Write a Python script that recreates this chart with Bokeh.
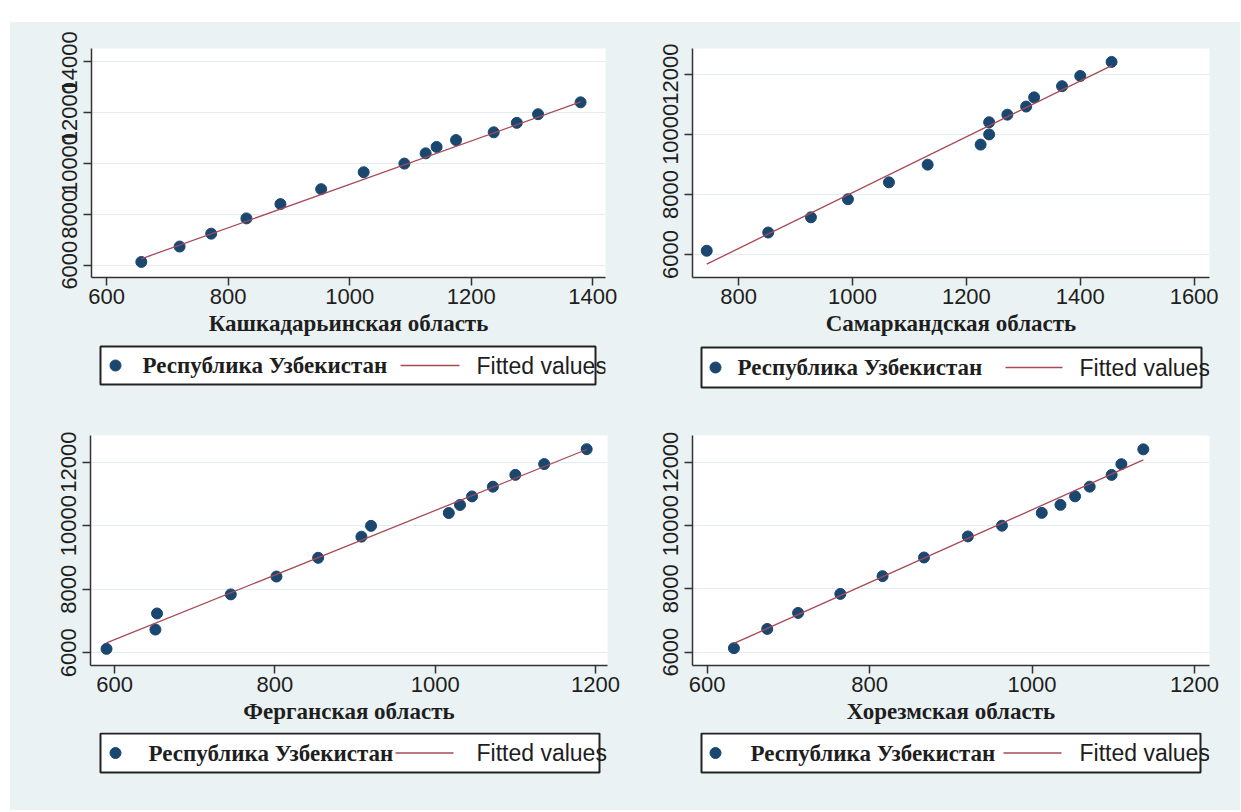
from bokeh.plotting import figure
from bokeh.models import Range1d, FixedTicker, Spacer
from bokeh.layouts import column, row
from bokeh.core.properties import value
from bokeh.embed import file_html
from bokeh.resources import INLINE

# ---------------- data ----------------
series_names = ["Республика Узбекистан", "Fitted values"]

# Республика Узбекистан (common y variable)
uzbekistan = [6125, 6732, 7238, 7839, 8401, 8990, 9656, 9995,
              10400, 10653, 10922, 11228, 11600, 11940, 12408]

kashkadarya = [657, 720, 772, 830, 886, 953, 1023, 1090,
               1125, 1143, 1175, 1237, 1275, 1310, 1380]
samarkand = [744, 852, 927, 992, 1064, 1132, 1225, 1240,
             1240, 1272, 1305, 1319, 1368, 1400, 1455]
fergana = [590, 651, 653, 745, 802, 854, 908, 920,
           1017, 1031, 1046, 1072, 1100, 1136, 1189]
khorezm = [633, 674, 712, 764, 816, 867, 921, 963,
           1012, 1035, 1053, 1071, 1098, 1110, 1137]

# fitted lines (end points)
fit_kash_x = [657, 1380]
fit_kash_y = [6250, 12421]
fit_samar_x = [744, 1455]
fit_samar_y = [5680, 12285]
fit_ferg_x = [590, 1189]
fit_ferg_y = [6315, 12399]
fit_khor_x = [633, 1137]
fit_khor_y = [6275, 12074]

titles = ["Кашкадарьинская область", "Самаркандская область",
          "Ферганская область", "Хорезмская область"]

xticks_kash = [600, 800, 1000, 1200, 1400]
xticks_samar = [800, 1000, 1200, 1400, 1600]
xticks_ferg = [600, 800, 1000, 1200]
xticks_khor = [600, 800, 1000, 1200]
yticks_kash = [6000, 8000, 10000, 12000, 14000]
yticks_other = [6000, 8000, 10000, 12000]

# ---------------- style ----------------
BG = "#EAF2F3"
NAVY = "#1A476F"
MAROON = "#A84A56"
AXIS = "#333333"
TXT = "#1e1e1e"


def make_panel(xs, ys, fx, fy, xr, yr, xt, yt, title, width,
               b_left, b_right, b_top, leg_h, box, dot_x, t1_x, line_x, t2_x):
    main_h = 322
    p = figure(width=width, height=main_h,
               x_range=Range1d(*xr), y_range=Range1d(*yr),
               output_backend="svg", toolbar_location=None,
               min_border_left=b_left, min_border_right=b_right,
               min_border_top=b_top, min_border_bottom=67,
               background_fill_color="white", border_fill_color=BG,
               outline_line_color=None)
    p.xgrid.visible = False
    p.ygrid.grid_line_color = "#E4ECEF"
    p.ygrid.grid_line_width = 1
    p.xaxis.ticker = FixedTicker(ticks=xt)
    p.yaxis.ticker = FixedTicker(ticks=yt)
    for ax in (p.xaxis, p.yaxis):
        ax.axis_line_color = AXIS
        ax.axis_line_width = 1.5
        ax.major_tick_line_color = AXIS
        ax.major_tick_line_width = 1.5
        ax.major_tick_out = 8
        ax.major_tick_in = 0
        ax.minor_tick_line_color = None
        ax.major_label_text_font = "Liberation Sans"
        ax.major_label_text_font_size = "22px"
        ax.major_label_text_color = TXT
    p.yaxis.major_label_orientation = "vertical"
    p.yaxis.major_label_standoff = 6
    p.xaxis.major_label_standoff = 3
    p.xaxis.axis_label = title
    p.xaxis.axis_label_text_font = "Liberation Serif"
    p.xaxis.axis_label_text_font_style = "bold"
    p.xaxis.axis_label_text_font_size = "23px"
    p.xaxis.axis_label_text_color = TXT
    p.xaxis.axis_label_standoff = 4

    p.scatter(xs, ys, size=11, fill_color=NAVY, line_color=NAVY)
    p.line(fx, fy, line_color=MAROON, line_width=1.3)

    # legend (drawn below the plot); its frame is aligned with the plot frame,
    # so the x range is set so that one unit equals one pixel from panel left
    lg = figure(width=width, height=leg_h,
                x_range=Range1d(b_left, width - b_right), y_range=Range1d(leg_h, 0),
                x_axis_type=None, y_axis_type=None,
                output_backend="svg", toolbar_location=None,
                min_border_left=b_left, min_border_right=b_right,
                min_border_top=0, min_border_bottom=0,
                background_fill_color=BG, border_fill_color=BG,
                outline_line_color=None)
    bl, br, bt, bb = box
    cy = (bt + bb) / 2
    lg.quad(left=[bl], right=[br], top=[bt], bottom=[bb],
            fill_color="white", line_color="#222222", line_width=2)
    lg.scatter([dot_x], [cy], size=11, fill_color=NAVY, line_color=NAVY)
    lg.line([line_x[0], line_x[1]], [cy, cy], line_color=MAROON, line_width=1.3)
    lg.text([t1_x], [cy], text=[series_names[0]],
            text_font=value("Liberation Serif"), text_font_style="bold",
            text_font_size="23px", text_color=TXT,
            text_baseline="middle", text_align="left")
    lg.text([t2_x], [cy], text=[series_names[1]],
            text_font=value("Liberation Sans"),
            text_font_size="23px", text_color=TXT,
            text_baseline="middle", text_align="left")
    return column(p, lg, spacing=0, styles={"background-color": BG})


tl = make_panel(kashkadarya, uzbekistan, fit_kash_x, fit_kash_y,
                (575, 1421), (5513, 14526), xticks_kash, yticks_kash, titles[0],
                610, 81, 15, 26, 66, (90, 585, 2, 40), 105, 132, (390, 449), 466)
tr = make_panel(samarkand, uzbekistan, fit_samar_x, fit_samar_y,
                (719, 1627), (5235, 12854), xticks_samar, yticks_other, titles[1],
                620, 72, 31, 26, 66, (81, 581, 3, 43), 95, 117, (385, 442), 459)
bl = make_panel(fergana, uzbekistan, fit_ferg_x, fit_ferg_y,
                (570, 1215), (5601, 12839), xticks_ferg, yticks_other, titles[2],
                610, 80, 13, 25, 78, (90, 589, 1, 40), 105, 138, (385, 443), 466)
br = make_panel(khorezm, uzbekistan, fit_khor_x, fit_khor_y,
                (582, 1218.5), (5577, 12845), xticks_khor, yticks_other, titles[3],
                620, 72, 31, 25, 78, (81, 580, 1, 40), 95, 130, (383, 441), 459)

grid = column(row(tl, tr, spacing=0, styles={"background-color": BG}),
              row(bl, br, spacing=0, styles={"background-color": BG}),
              spacing=0, styles={"background-color": BG})
page = column(Spacer(height=22), row(Spacer(width=10), grid, spacing=0), spacing=0)

open("out.html", "w").write(file_html(page, INLINE))
